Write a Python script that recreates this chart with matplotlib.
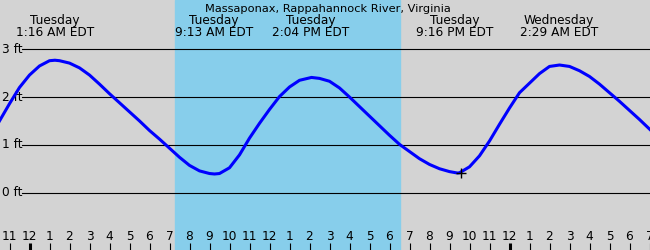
import numpy as np
import matplotlib
matplotlib.use("Agg")
import matplotlib.pyplot as plt
import matplotlib.transforms as mtransforms

zeit = [-1.5, -1, -0.5, 0, 0.5, 1, 1.27, 1.5, 2, 2.5, 3, 3.5, 4, 4.5, 5, 5.5, 6, 6.5, 7, 7.5,
        8, 8.5, 9, 9.25, 9.5, 10, 10.5, 11, 11.5, 12, 12.5, 13, 13.5, 14, 14.1, 14.5, 15, 15.5,
        16, 16.5, 17, 17.5, 18, 18.5, 19, 19.5, 20, 20.5, 21, 21.4, 21.5, 22, 22.5, 23, 23.5,
        24, 24.5, 25, 25.5, 26, 26.5, 27, 27.5, 28, 28.5, 29, 29.5, 30, 30.5, 31, 31.5]
hoehe = [1.50, 1.86, 2.20, 2.46, 2.65, 2.76, 2.77, 2.76, 2.71, 2.61, 2.46, 2.27, 2.07, 1.88,
         1.69, 1.50, 1.30, 1.12, 0.93, 0.74, 0.57, 0.455, 0.40, 0.39, 0.40, 0.52, 0.79, 1.14,
         1.45, 1.74, 2.01, 2.21, 2.35, 2.40, 2.41, 2.39, 2.33, 2.19, 2.00, 1.80, 1.60, 1.40,
         1.20, 1.01, 0.86, 0.71, 0.59, 0.50, 0.44, 0.41, 0.415, 0.54, 0.77, 1.08, 1.43, 1.77,
         2.09, 2.29, 2.49, 2.64, 2.67, 2.64, 2.55, 2.43, 2.27, 2.09, 1.91, 1.72, 1.53, 1.33, 1.13]

# Hoch- und Niedrigwasser
ereignis_zeit = [1.267, 9.217, 14.067, 21.267, 26.483]
ereignis_tag = ["Tuesday", "Tuesday", "Tuesday", "Tuesday", "Wednesday"]
ereignis_text = ["1:16 AM EDT", "9:13 AM EDT", "2:04 PM EDT", "9:16 PM EDT", "2:29 AM EDT"]

# Tageslicht
sonnenaufgang = 7.275
sonnenuntergang = 18.5

# aktuelle Zeit
jetzt_zeit = 21.58
jetzt_hoehe = 0.41

fuss = [0, 1, 2, 3]
fuss_labels = ["0 ft", "1 ft", "2 ft", "3 ft"]

stunden = list(range(-1, 32))
stunden_labels = [str(h % 12 or 12) for h in stunden]

titel = "Massaponax, Rappahannock River, Virginia"

W, H = 650, 250
fig = plt.figure(figsize=(6.5, 2.5), dpi=100)
fig.patch.set_facecolor("#d3d3d3")
ax = fig.add_axes([0, 0, 1, 1])
ax.set_facecolor("#d3d3d3")
ax.set_xlim(-1.475, 31.025)
ax.set_ylim(-1.20, 4.03)
ax.axis("off")

fs = 8.7
trans = mtransforms.blended_transform_factory(ax.transData, ax.transAxes)

ax.axvspan(sonnenaufgang, sonnenuntergang, color="#87ceeb", zorder=1)

# Gitterlinien und Beschriftung
for f, lab in zip(fuss, fuss_labels):
    ax.axhline(f, xmin=22 / W, xmax=1, color="black", lw=0.8, zorder=2)
    ax.text(2 / W, f, lab, transform=mtransforms.blended_transform_factory(ax.transAxes, ax.transData),
            ha="left", va="center", fontsize=fs, color="black", zorder=3)

ax.plot(zeit, hoehe, color="#0000ff", lw=2.2, zorder=4, solid_joinstyle="round")
ax.plot([jetzt_zeit], [jetzt_hoehe], marker="+", color="black", ms=7, mew=1.0, zorder=5)

# Stundenmarken
for h, lab in zip(stunden, stunden_labels):
    dick = 2.2 if h % 24 == 0 else 0.8
    ax.plot([h, h], [0, 7 / H], transform=trans, color="black", lw=dick, zorder=3,
            solid_capstyle="butt")
    ax.text(h, 1 - 239.5 / H, lab, transform=trans, ha="center", va="baseline",
            fontsize=fs, color="black", zorder=3)

# Titel und Ereignisse
ax.text(0.504, 1 - 12.5 / H, titel, transform=ax.transAxes, ha="center", va="baseline",
        fontsize=8.2, color="black", zorder=6)
for t, tag, txt in zip(ereignis_zeit, ereignis_tag, ereignis_text):
    ax.text(t, 1 - 24 / H, tag, transform=trans, ha="center", va="baseline",
            fontsize=fs, color="black", zorder=6)
    ax.text(t, 1 - 35.5 / H, txt, transform=trans, ha="center", va="baseline",
            fontsize=fs, color="black", zorder=6)

fig.savefig("out.png", dpi=100, facecolor=fig.get_facecolor())
